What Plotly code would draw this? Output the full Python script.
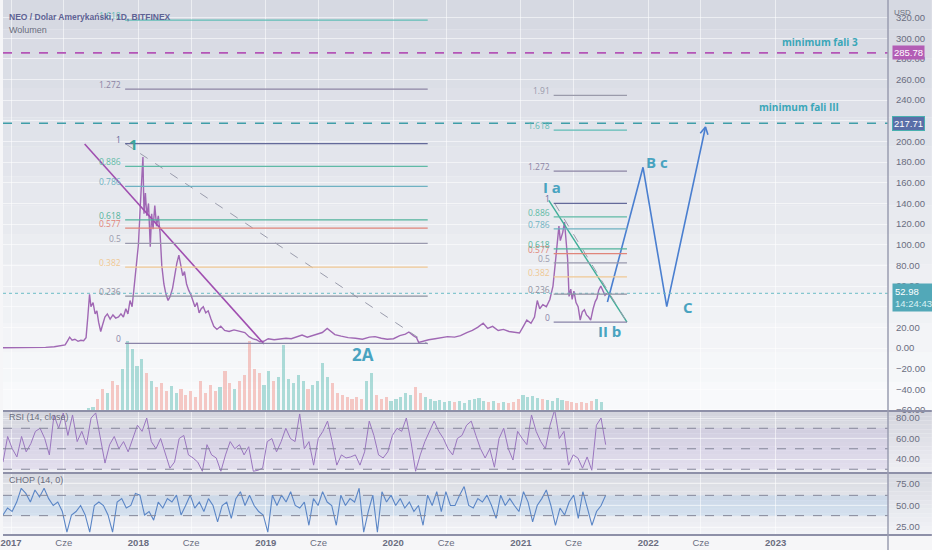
import numpy as np
import pandas as pd
import plotly.graph_objects as go

# ---- values ----
# NEO/USD close (approximate)
price_points = [
    ("2016-12-09", 0.2), ("2017-01-10", 0.2), ("2017-02-10", 0.2), ("2017-03-10", 0.3),
    ("2017-04-10", 0.6), ("2017-05-05", 1.2), ("2017-05-25", 2.0), ("2017-06-05", 3.0),
    ("2017-06-12", 7.0), ("2017-06-18", 10.5), ("2017-06-25", 7.5), ("2017-07-03", 8.5),
    ("2017-07-12", 6.5), ("2017-07-20", 7.5), ("2017-07-28", 7.0), ("2017-08-04", 10.0),
    ("2017-08-09", 30.0), ("2017-08-14", 52.0), ("2017-08-18", 40.0), ("2017-08-24", 44.0),
    ("2017-08-30", 33.0), ("2017-09-04", 36.0), ("2017-09-09", 25.0), ("2017-09-15", 16.0),
    ("2017-09-20", 22.0), ("2017-09-27", 30.0), ("2017-10-04", 33.0), ("2017-10-12", 28.0),
    ("2017-10-20", 32.0), ("2017-10-28", 29.0), ("2017-11-05", 30.0), ("2017-11-12", 33.0),
    ("2017-11-19", 30.0), ("2017-11-26", 38.0), ("2017-12-02", 33.0), ("2017-12-08", 46.0),
    ("2017-12-14", 40.0), ("2017-12-20", 62.0), ("2017-12-26", 78.0), ("2018-01-01", 100.0),
    ("2018-01-06", 135.0), ("2018-01-10", 160.0), ("2018-01-14", 185.0), ("2018-01-17", 130.0),
    ("2018-01-21", 150.0), ("2018-01-25", 128.0), ("2018-01-30", 140.0), ("2018-02-04", 98.0),
    ("2018-02-08", 130.0), ("2018-02-12", 115.0), ("2018-02-17", 138.0), ("2018-02-22", 118.0),
    ("2018-02-27", 128.0), ("2018-03-04", 112.0), ("2018-03-09", 80.0), ("2018-03-15", 62.0),
    ("2018-03-21", 52.0), ("2018-03-27", 46.0), ("2018-04-02", 50.0), ("2018-04-09", 58.0),
    ("2018-04-15", 72.0), ("2018-04-21", 82.0), ("2018-04-27", 90.0), ("2018-05-03", 78.0),
    ("2018-05-08", 70.0), ("2018-05-13", 74.0), ("2018-05-19", 62.0), ("2018-05-25", 56.0),
    ("2018-05-31", 52.0), ("2018-06-06", 46.0), ("2018-06-12", 40.0), ("2018-06-18", 44.0),
    ("2018-06-24", 34.0), ("2018-06-30", 38.0), ("2018-07-06", 40.0), ("2018-07-13", 34.0),
    ("2018-07-20", 36.0), ("2018-07-28", 28.0), ("2018-08-05", 21.0), ("2018-08-14", 18.0),
    ("2018-08-25", 21.0), ("2018-09-05", 17.0), ("2018-09-18", 16.0), ("2018-10-02", 17.5),
    ("2018-10-18", 16.0), ("2018-11-02", 15.0), ("2018-11-14", 11.0), ("2018-11-24", 9.0),
    ("2018-12-05", 8.0), ("2018-12-15", 6.0), ("2018-12-26", 6.5), ("2019-01-08", 9.0),
    ("2019-01-25", 8.0), ("2019-02-10", 8.5), ("2019-02-28", 9.5), ("2019-03-15", 9.0),
    ("2019-04-02", 11.0), ("2019-04-15", 12.5), ("2019-04-30", 10.5), ("2019-05-15", 12.0),
    ("2019-05-30", 14.0), ("2019-06-12", 15.0), ("2019-06-26", 19.0), ("2019-07-05", 16.5),
    ("2019-07-18", 13.0), ("2019-08-05", 11.5), ("2019-08-25", 10.0), ("2019-09-15", 9.5),
    ("2019-10-05", 8.5), ("2019-10-25", 10.5), ("2019-11-10", 11.0), ("2019-11-28", 9.5),
    ("2019-12-15", 8.5), ("2020-01-02", 9.0), ("2020-01-20", 12.0), ("2020-02-05", 13.5),
    ("2020-02-15", 15.5), ("2020-02-28", 12.0), ("2020-03-08", 10.0), ("2020-03-14", 5.5),
    ("2020-03-28", 7.0), ("2020-04-12", 8.0), ("2020-04-30", 9.0), ("2020-05-18", 10.0),
    ("2020-06-05", 11.0), ("2020-06-25", 10.5), ("2020-07-12", 12.0), ("2020-07-30", 15.0),
    ("2020-08-15", 17.0), ("2020-08-30", 20.0), ("2020-09-15", 24.0), ("2020-09-28", 19.0),
    ("2020-10-12", 21.0), ("2020-10-28", 17.0), ("2020-11-12", 18.0), ("2020-11-28", 16.0),
    ("2020-12-12", 15.0), ("2020-12-28", 14.5), ("2021-01-08", 21.0), ("2021-01-18", 27.0),
    ("2021-01-30", 24.0), ("2021-02-09", 30.0), ("2021-02-17", 46.0), ("2021-02-24", 38.0),
    ("2021-03-05", 42.0), ("2021-03-15", 40.0), ("2021-03-25", 47.0), ("2021-04-03", 60.0),
    ("2021-04-09", 80.0), ("2021-04-14", 95.0), ("2021-04-20", 118.0), ("2021-04-24", 104.0),
    ("2021-05-01", 112.0), ("2021-05-06", 122.0), ("2021-05-11", 96.0), ("2021-05-15", 86.0),
    ("2021-05-19", 50.0), ("2021-05-24", 57.0), ("2021-05-28", 47.0), ("2021-06-02", 55.0),
    ("2021-06-08", 44.0), ("2021-06-14", 40.0), ("2021-06-20", 27.0), ("2021-06-26", 35.0),
    ("2021-07-02", 37.0), ("2021-07-08", 32.0), ("2021-07-14", 30.0), ("2021-07-20", 27.0),
    ("2021-07-27", 38.0), ("2021-08-02", 45.0), ("2021-08-07", 48.0), ("2021-08-12", 56.0),
    ("2021-08-18", 60.0), ("2021-08-24", 56.0), ("2021-08-30", 51.0), ("2021-09-05", 53.0),
]

# volume (relative units), one bar every 14 days starting 2017-06-01
volume_start = "2017-06-01"
volume = [
    0.5, 0.8, 0.6, 0.7, 1.2, 3, 4, 12, 22, 18,
    30, 26, 42, 70, 62, 45, 52, 38, 30, 24,
    28, 20, 25, 18, 22, 16, 20, 14, 30, 18,
    26, 20, 24, 40, 28, 22, 30, 36, 70, 42,
    38, 26, 40, 30, 34, 66, 32, 28, 36, 30,
    22, 26, 30, 48, 34, 28, 18, 16, 14, 12,
    14, 12, 30, 38, 16, 12, 14, 10, 12, 14,
    18, 16, 24, 18, 14, 12, 10, 11, 9, 10,
    9, 10, 8, 11, 12, 13, 10, 9, 10, 8,
    9, 8, 9, 12, 16, 14, 15, 13, 12, 11,
    10, 13, 11, 10, 9, 8, 9, 8, 10, 12,
    9,
]

# oscillators, evenly sampled between these two dates
osc_start, osc_end = "2016-12-09", "2021-09-01"
rsi = [
    37, 62, 50, 42, 62, 47, 55, 67, 70, 60, 44, 83, 70, 85, 63, 83, 57, 67, 54, 80,
    85, 60, 36, 54, 62, 50, 57, 47, 60, 73, 67, 80, 57, 50, 60, 45, 31, 37, 60, 63,
    44, 41, 37, 28, 54, 44, 41, 28, 44, 57, 50, 54, 44, 52, 28, 29, 31, 57, 60, 47,
    57, 70, 60, 57, 84, 50, 57, 34, 60, 67, 77, 57, 34, 44, 41, 42, 44, 34, 47, 77,
    63, 44, 41, 47, 63, 70, 67, 80, 57, 28, 44, 57, 67, 77, 67, 60, 50,
    44, 60, 63, 73, 77, 63, 50, 41, 50, 32, 60, 70, 50, 39, 67, 60, 54, 83, 67, 57,
    50, 73, 88, 60, 67, 34, 44, 41, 31, 42, 29, 73, 80, 54,
]
chop = [
    39, 47, 43, 54, 70, 64, 54, 68, 60, 70, 58, 50, 54, 43, 19, 39, 43, 50, 39, 19,
    50, 54, 50, 39, 19, 54, 58, 47, 50, 64, 62, 39, 43, 33, 54, 47, 58, 54, 62, 39,
    50, 62, 47, 54, 43, 58, 50, 31, 50, 54, 35, 58, 66, 50, 62, 50, 43, 39, 19, 62,
    50, 62, 54, 66, 50, 47, 54, 27, 58, 50, 66, 54, 50, 27, 62, 50, 58, 54, 70, 19,
    43, 62, 19, 66, 54, 62, 50, 58, 47, 54, 43, 50, 27, 62, 50, 66, 43, 66, 50,
    50, 62, 72, 50, 47, 58, 54, 62, 50, 35, 62, 50, 58, 50, 43, 66, 54, 31, 50, 58,
    68, 50, 27, 47, 39, 54, 62, 35, 66, 47, 27, 43, 50, 62,
]

# fibonacci retracements drawn on the chart
fib_ratios = [0, 0.236, 0.382, 0.5, 0.577, 0.618, 0.786, 0.886, 1, 1.272, 1.618, 1.91]
fib_labels = ["0", "0.236", "0.382", "0.5", "0.577", "0.618", "0.786", "0.886", "1", "1.272", "1.618", "1.91"]
fib_colors = ["#8a84a8", "#8e91a0", "#efc894", "#9a9aae", "#e0857a", "#52b39c",
              "#6fb2c2", "#5fbaa6", "#646a9a", "#8c84a4", "#5fbdb6", "#9a9aaa"]
fib_wave1 = {"low": 4.5, "high": 198.0, "start": "2017-11-24", "end": "2020-04-09"}
fib_wave2 = {"low": 25.0, "high": 140.0, "start": "2021-04-05", "end": "2021-11-01"}

level_fala3 = 285.78
level_fala_iii = 217.71
last_price = 52.98
last_time = "14:24:43"

# hand drawn lines (dates, prices)
trend_purple = (["2017-07-31", "2018-12-27"], [197.5, 3.9])
trend_dash_left = (["2017-11-24", "2020-04-09"], [198.0, 4.0])
trend_green_right = (["2021-03-22", "2021-11-01"], [143.0, 25.0])
trend_dash_right = (["2021-04-08", "2021-11-01"], [140.0, 25.0])
wave_path = (["2021-09-06", "2021-12-17", "2022-02-23", "2022-06-14"], [44.5, 175.0, 40.0, 214.0])
arrow_head = (["2022-05-30", "2022-06-14", "2022-06-21"], [208.0, 214.0, 206.6])

wave_labels = [
    ("1", "2017-12-17", 198, 15, "#3aa59a"),
    ("2A", "2019-10-07", -6, 17, "#49a3c0"),
    ("I a", "2021-04-01", 156, 15, "#49a3c0"),
    ("II b", "2021-09-11", 16, 15, "#49a3c0"),
    ("B c", "2022-01-26", 180, 15, "#49a3c0"),
    ("C", "2022-04-24", 40, 15, "#49a3c0"),
]
level_notes = [
    ("minimum fali 3", "2023-05-08", 296),
    ("minimum fali III", "2023-03-10", 233),
]

tick_dates = ["2017-01-01", "2017-06-01", "2018-01-01", "2018-06-01", "2019-01-01",
              "2019-06-01", "2020-01-01", "2020-06-01", "2021-01-01", "2021-06-01",
              "2022-01-01", "2022-06-01", "2023-01-01"]
tick_text = ["2017", "Cze", "2018", "Cze", "2019", "Cze", "2020", "Cze", "2021", "Cze",
             "2022", "Cze", "2023"]

# ---- geometry ----
W, H = 932, 550
PLOT_H = 535
X_EXTRA = 1 + 44 / 888          # paper x of the right figure edge
MAIN = (0, 411)
RSI_P = (412, 472)
CHOP_P = (474, 535)


def paper_y(px):
    return (PLOT_H - px) / PLOT_H


def mix(c1, c2, t):
    return "rgb({},{},{})".format(*[int(round(a + (b - a) * t)) for a, b in zip(c1, c2)])


price_dates = pd.to_datetime([d for d, _ in price_points])
price_close = np.array([v for _, v in price_points])
vol_dates = pd.date_range(volume_start, periods=len(volume), freq="14D")
rsi_dates = pd.date_range(osc_start, osc_end, periods=len(rsi))
chop_dates = pd.date_range(osc_start, osc_end, periods=len(chop))

# colour volume by price direction over the bar period
p_num = price_dates.astype("int64")
now_p = np.interp(vol_dates.astype("int64"), p_num, price_close)
prev_p = np.interp((vol_dates - pd.Timedelta(days=14)).astype("int64"), p_num, price_close)
vol_colors = ["rgba(38,166,154,0.36)" if a >= b else "rgba(239,110,100,0.36)"
              for a, b in zip(now_p, prev_p)]

fig = go.Figure()

fig.add_trace(go.Bar(
    x=vol_dates, y=volume, yaxis="y4", marker_color=vol_colors,
    marker_line_width=0, width=9 * 86400000, showlegend=False, hoverinfo="skip"
))

fig.add_trace(go.Scatter(
    x=price_dates, y=price_close, mode="lines",
    line=dict(color="#a068b4", width=1.4), showlegend=False, name="NEO"
))

# drawings
for (xs, ys), color, dash, width in [
    (trend_purple, "#a04fb0", "solid", 1.6),
    (trend_dash_left, "#9a9cac", "dash", 1),
    (trend_green_right, "#3fae98", "solid", 1.4),
    (trend_dash_right, "#9a9cac", "dash", 1),
    (wave_path, "#4a7fd0", "solid", 1.6),
    (arrow_head, "#4a7fd0", "solid", 1.6),
]:
    fig.add_trace(go.Scatter(x=xs, y=ys, mode="lines", line=dict(color=color, width=width, dash=dash),
                             showlegend=False, hoverinfo="skip"))

fig.add_trace(go.Scatter(
    x=rsi_dates, y=rsi, yaxis="y2", mode="lines",
    line=dict(color="#9a76bf", width=1), showlegend=False, name="RSI"
))
fig.add_trace(go.Scatter(
    x=chop_dates, y=chop, yaxis="y3", mode="lines",
    line=dict(color="#5b86c6", width=1.1), showlegend=False, name="CHOP"
))

# background gradients per pane
panes = [
    (MAIN, (214, 217, 226), (248, 249, 251)),
    (RSI_P, (212, 213, 222), (238, 238, 243)),
    (CHOP_P, (217, 219, 226), (242, 243, 247)),
]
n = 14
for (top, bot), c_top, c_bot in panes:
    for i in range(n):
        y_top = top + (bot - top) * i / n
        y_bot = top + (bot - top) * (i + 1) / n
        fig.add_shape(type="rect", xref="paper", yref="paper", x0=0, x1=X_EXTRA,
                      y0=paper_y(y_bot), y1=paper_y(y_top), line_width=0,
                      fillcolor=mix(c_top, c_bot, i / (n - 1)), layer="below")

# oscillator bands
fig.add_shape(type="rect", xref="paper", yref="y2", x0=0, x1=1, y0=30, y1=70,
              fillcolor="rgba(126,87,194,0.10)", line_width=0, layer="below")
fig.add_shape(type="rect", xref="paper", yref="y3", x0=0, x1=1, y0=38.2, y1=61.8,
              fillcolor="rgba(60,150,225,0.13)", line_width=0, layer="below")
for yref, lv in [("y2", 70), ("y2", 50), ("y2", 30), ("y3", 61.8), ("y3", 38.2)]:
    fig.add_shape(type="line", xref="paper", yref=yref, x0=0, x1=1, y0=lv, y1=lv,
                  line=dict(color="#85879a", width=1, dash="dash"))

# horizontal levels
fig.add_shape(type="line", xref="paper", yref="y", x0=0, x1=1, y0=level_fala3, y1=level_fala3,
              line=dict(color="#b455b6", width=1.6, dash="dash"))
fig.add_shape(type="line", xref="paper", yref="y", x0=0, x1=1, y0=level_fala_iii, y1=level_fala_iii,
              line=dict(color="#3f9ea8", width=1.6, dash="dash"))
fig.add_shape(type="line", xref="paper", yref="y", x0=0, x1=1, y0=last_price, y1=last_price,
              line=dict(color="#6cbcc6", width=1, dash="dot"))


def add_fib(fib):
    span = fib["high"] - fib["low"]
    for ratio, label, color in zip(fib_ratios, fib_labels, fib_colors):
        level = fib["low"] + ratio * span
        if level > 330:
            continue
        fig.add_shape(type="line", xref="x", yref="y", x0=fib["start"], x1=fib["end"],
                      y0=level, y1=level, line=dict(color=color, width=1.2))
        fig.add_annotation(x=fib["start"], y=level, xref="x", yref="y", text=label,
                           showarrow=False, xanchor="right", yanchor="bottom",
                           xshift=-2, yshift=-3, font=dict(size=8.5, color=color))


add_fib(fib_wave1)
add_fib(fib_wave2)

for text, d, p, size, color in wave_labels:
    fig.add_annotation(x=d, y=p, xref="x", yref="y", text="<b>%s</b>" % text, showarrow=False,
                       font=dict(size=size, color=color, family="Open Sans"))
for text, d, p in level_notes:
    fig.add_annotation(x=d, y=p, xref="x", yref="y", text="<b>%s</b>" % text, showarrow=False,
                       font=dict(size=10, color="#3aa6b8", family="Open Sans"))

# pane separators and axis line
for py in [411, 473, 535]:
    fig.add_shape(type="line", xref="paper", yref="paper", x0=0, x1=X_EXTRA,
                  y0=paper_y(py), y1=paper_y(py), line=dict(color="#8e90a8", width=2))
fig.add_shape(type="line", xref="paper", yref="paper", x0=1, x1=1, y0=paper_y(550), y1=1,
              line=dict(color="#9a9cb0", width=1.5))

# price boxes on the axis
box_font = dict(size=9.5, color="white", family="Liberation Sans")
fig.add_annotation(x=1, xref="paper", y=level_fala3, yref="y", text="%.2f" % level_fala3,
                   showarrow=False, xanchor="left", xshift=4, bgcolor="#b35db5",
                   borderpad=1, font=box_font)
fig.add_annotation(x=1, xref="paper", y=level_fala_iii, yref="y", text="%.2f" % level_fala_iii,
                   showarrow=False, xanchor="left", xshift=4, bgcolor="#5a6ea8",
                   bordercolor="#48b0b0", borderwidth=1, borderpad=1, font=box_font)
fig.add_annotation(x=1, xref="paper", y=last_price, yref="y",
                   text="%.2f<br><span style='color:#d8f0f4'>%s</span>" % (last_price, last_time),
                   showarrow=False, xanchor="left", yanchor="top", yshift=10, xshift=4,
                   bgcolor="#52a8b8", borderpad=2, align="left", font=box_font)

# texts in the corners
fig.add_annotation(x=0.005, y=paper_y(10), xref="paper", yref="paper",
                   text="<b>NEO / Dolar Amerykański, 1D, BITFINEX</b>", showarrow=False,
                   xanchor="left", font=dict(size=8.5, color="#5e6294", family="Liberation Sans"))
fig.add_annotation(x=0.005, y=paper_y(23), xref="paper", yref="paper", text="Wolumen",
                   showarrow=False, xanchor="left", font=dict(size=9, color="#6a6d7d", family="Liberation Sans"))
fig.add_annotation(x=0.005, y=paper_y(424), xref="paper", yref="paper", text="RSI (14, close)",
                   showarrow=False, xanchor="left", font=dict(size=9, color="#6a6d7d", family="Liberation Sans"))
fig.add_annotation(x=0.005, y=paper_y(487), xref="paper", yref="paper", text="CHOP (14, 0)",
                   showarrow=False, xanchor="left", font=dict(size=9, color="#6a6d7d", family="Liberation Sans"))
fig.add_annotation(x=1.028, y=paper_y(6), xref="paper", yref="paper", text="USD",
                   showarrow=False, font=dict(size=8, color="#6a6d7d", family="Liberation Sans"))

tick_font = dict(size=9.5, color="#6a6d80", family="Liberation Sans")
grid = "rgba(255,255,255,0.55)"
yax = dict(side="right", anchor="x", showgrid=True, gridcolor=grid, zeroline=False,
           tickformat=".2f", ticks="outside", ticklen=5, tickcolor="rgba(0,0,0,0)",
           tickfont=tick_font, fixedrange=True)

fig.update_layout(
    width=W, height=H,
    margin=dict(l=0, r=44, t=0, b=15),
    paper_bgcolor="#f6f6f8",
    plot_bgcolor="rgba(0,0,0,0)",
    showlegend=False,
    bargap=0,
    xaxis=dict(
        type="date", range=["2016-12-09", "2023-11-19"], anchor="y3",
        tickvals=tick_dates,
        ticktext=["<b>%s</b>" % t if t != "Cze" else t for t in tick_text],
        showgrid=True, gridcolor=grid, zeroline=False, showline=False,
        ticks="", tickfont=tick_font, ticklabeloverflow="allow", fixedrange=True,
    ),
    yaxis=dict(yax, domain=[paper_y(MAIN[1]), 1], range=[-61, 337], dtick=20, tick0=0),
    yaxis2=dict(yax, domain=[paper_y(RSI_P[1]), paper_y(RSI_P[0])], range=[27.3, 85.9],
                tickvals=[40, 60, 80]),
    yaxis3=dict(yax, domain=[0, paper_y(CHOP_P[0])], range=[15.7, 86.6],
                tickvals=[25, 50, 75]),
    yaxis4=dict(overlaying="y", range=[0, 411], visible=False, fixedrange=True),
)

# the page has a default body margin; drop it so the figure sits at the top-left corner
fig.write_html("out.html", config={"displayModeBar": False},
               post_script="document.body.style.margin='0';document.body.style.overflow='hidden';")
